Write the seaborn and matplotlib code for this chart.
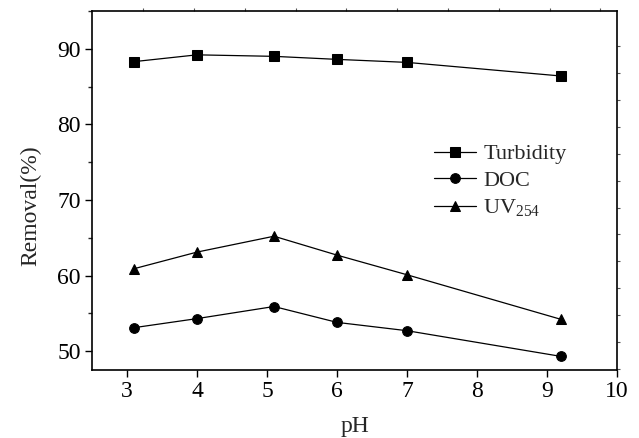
import numpy as np
import pandas as pd
import matplotlib
matplotlib.use("Agg")
import matplotlib.pyplot as plt
import seaborn as sns

ph = [3.1, 4.0, 5.1, 6.0, 7.0, 9.2]
turbidity = [88.3, 89.2, 89.0, 88.6, 88.2, 86.4]
doc = [53.1, 54.3, 55.9, 53.8, 52.7, 49.3]
uv254 = [60.9, 63.1, 65.2, 62.7, 60.1, 54.2]
series_names = ["Turbidity", "DOC", "UV$_{254}$"]

df = pd.DataFrame({
    "pH": ph * 3,
    "Removal": turbidity + doc + uv254,
    "Series": [series_names[0]] * len(ph) + [series_names[1]] * len(ph) + [series_names[2]] * len(ph),
})

sns.set_style("ticks")
plt.rcParams['font.family'] = ['Liberation Serif', 'DejaVu Serif']
plt.rcParams['mathtext.fontset'] = 'custom'
plt.rcParams['mathtext.rm'] = 'Liberation Serif'
plt.rcParams['mathtext.it'] = 'Liberation Serif'

fig = plt.figure(figsize=(6.39, 4.38), dpi=100)
ax = fig.add_axes([92/639, 1 - 370/438, (617-92)/639, (370-11)/438])

sns.lineplot(data=df, x="pH", y="Removal", hue="Series", style="Series",
             markers={series_names[0]: "s", series_names[1]: "o", series_names[2]: "^"},
             dashes=False, palette=["black"] * 3, linewidth=0.9, markersize=7,
             markeredgecolor="black", ax=ax, sort=False)

ax.set_xlim(2.5, 10)
ax.set_ylim(47.5, 95)
ax.set_xticks(range(3, 11))
ax.set_yticks([50, 60, 70, 80, 90])
ax.set_yticks([55, 65, 75, 85, 95], minor=True)
ax.tick_params(axis='both', which='major', direction='out', length=5, width=1, labelsize=17, colors='black', pad=3)
ax.tick_params(axis='y', which='minor', direction='out', length=3, width=1)
for s in ax.spines.values():
    s.set_linewidth(1.2)
    s.set_color('black')
ax.set_xlabel("pH", fontsize=17)
ax.set_ylabel("Removal(%)", fontsize=17)
ax.xaxis.set_label_coords(0.501, -0.128)
ax.yaxis.set_label_coords(-0.097, 0.457)

# faint outer stub ticks on top and right spines
top = ax.secondary_xaxis('top')
top.set_xticks(np.arange(3.23, 10.0, 0.726))
top.tick_params(direction='out', length=2, width=0.8, labeltop=False, colors='#555555')
top.spines['top'].set_visible(False)
right = ax.secondary_yaxis('right')
right.set_yticks(np.arange(90.36, 47.5, -3.56))
right.tick_params(direction='out', length=2, width=0.8, labelright=False, colors='#555555')
right.spines['right'].set_visible(False)

leg = ax.legend(loc='upper left', bbox_to_anchor=(0.635, 0.655), frameon=False,
                fontsize=16, handlelength=1.9, handletextpad=0.3, labelspacing=0.28,
                borderaxespad=0)

fig.savefig("out.png", dpi=100)
